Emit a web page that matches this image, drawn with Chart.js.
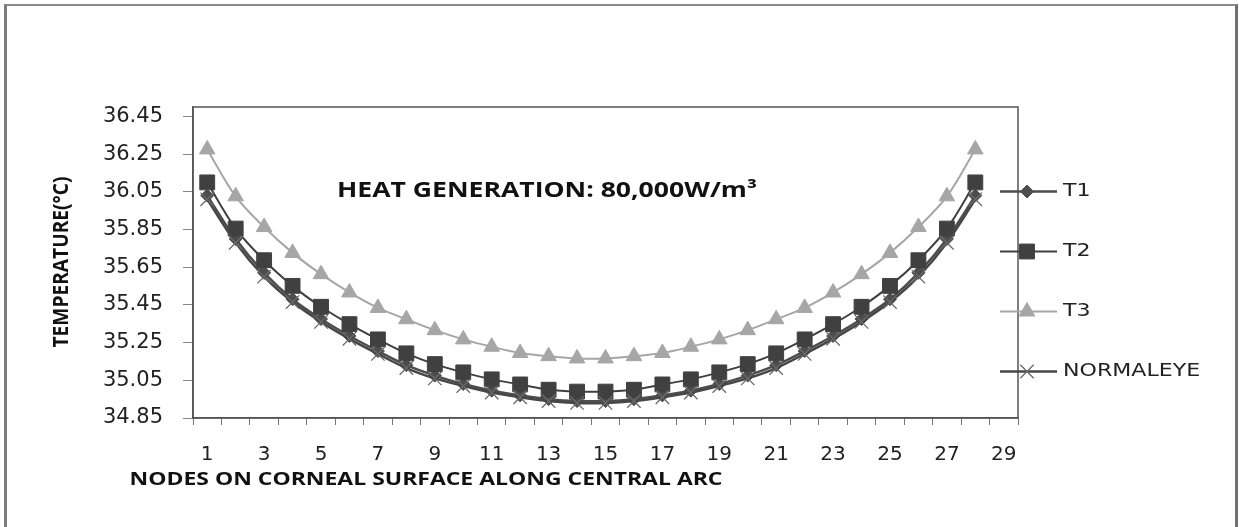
<!DOCTYPE html>
<html><head><meta charset="utf-8">
<script src="https://cdn.jsdelivr.net/npm/chart.js@4.4.0/dist/chart.umd.min.js"></script>
<style>
html,body{margin:0;padding:0;background:#fff;overflow:hidden}
#wrap{position:relative;width:1239px;height:527px}
#frame{position:absolute;left:4px;top:4px;width:1228px;height:600px;border-left:3px solid #7d7d7d;border-top:2px solid #8a8a8a;border-right:3px solid #6f6f6f;pointer-events:none}
</style></head>
<body><div id="wrap"><canvas id="c" width="1239" height="527"></canvas><div id="frame"></div></div>
<script>
const nodes = ['1','2','3','4','5','6','7','8','9','10','11','12','13','14','15','16','17','18','19','20','21','22','23','24','25','26','27','28','29'];
const t1 = [36.03,35.80,35.62,35.48,35.375,35.285,35.205,35.13,35.075,35.03,34.995,34.97,34.95,34.94,
            34.94,34.95,34.97,34.995,35.03,35.075,35.13,35.205,35.285,35.375,35.48,35.62,35.80,36.03];
const t2 = [36.10,35.855,35.687,35.551,35.44,35.348,35.267,35.193,35.136,35.092,35.055,35.028,35.00,34.99,
            34.99,35.00,35.028,35.055,35.092,35.136,35.193,35.267,35.348,35.44,35.551,35.687,35.855,36.10];
const t3 = [36.275,36.026,35.863,35.726,35.613,35.516,35.434,35.374,35.316,35.267,35.228,35.195,35.178,35.166,
            35.166,35.178,35.195,35.228,35.267,35.316,35.374,35.434,35.516,35.613,35.726,35.863,36.026,36.275];
const normalEye = [36.01,35.78,35.60,35.465,35.36,35.27,35.19,35.115,35.06,35.02,34.985,34.96,34.94,34.93,
            34.93,34.94,34.96,34.985,35.02,35.06,35.115,35.19,35.27,35.36,35.465,35.60,35.78,36.01];
const yTicks = [34.85,35.05,35.25,35.45,35.65,35.85,36.05,36.25,36.45];
const seriesNames = ['T1','T2','T3','NORMALEYE'];
const annotationText = 'HEAT GENERATION: 80,000W/m\u00B3';
const xTitle = 'NODES ON CORNEAL SURFACE ALONG CENTRAL ARC';
const yTitle = 'TEMPERATURE(\u00B0C)';

function fitText(ctx, text, x, y, opts) {
  ctx.save();
  ctx.font = opts.font;
  ctx.fillStyle = opts.color || '#1a1a1a';
  ctx.textBaseline = 'middle';
  ctx.textAlign = opts.align || 'center';
  const w = ctx.measureText(text).width;
  const sx = opts.width ? opts.width / w : (opts.sx || 1);
  const sy = opts.sy || 1;
  ctx.translate(x, y);
  if (opts.rotate) ctx.rotate(-Math.PI / 2);
  ctx.scale(sx, sy);
  ctx.fillText(text, 0, 0);
  ctx.restore();
}

const decor = {
  id: 'decor',
  afterDraw(chart) {
    const ctx = chart.ctx, a = chart.chartArea;
    ctx.save();
    ctx.strokeStyle = '#555';
    ctx.lineWidth = 1.5;
    ctx.strokeRect(a.left, a.top, a.right - a.left, a.bottom - a.top);
    ctx.restore();
    fitText(ctx, annotationText, 547, 191, {font: 'bold 21px "Open Sans"', width: 420, color: '#111'});
    fitText(ctx, xTitle, 426, 480, {font: 'bold 17px "Open Sans"', width: 593, color: '#111'});
    fitText(ctx, yTitle, 62, 262, {font: 'bold 17px "Open Sans"', width: 171, sy: 1.3, rotate: true, color: '#111'});
    // legend
    const ys = [191.5, 251.5, 311.5, 371.5];
    chart.data.datasets.forEach((ds, i) => {
      const y = ys[i];
      ctx.save();
      ctx.strokeStyle = ds.borderColor;
      ctx.lineWidth = ds.borderWidth;
      ctx.beginPath(); ctx.moveTo(1000, y); ctx.lineTo(1057, y); ctx.stroke();
      ctx.fillStyle = ds.backgroundColor;
      ctx.strokeStyle = ds.pointBorderColor || ds.borderColor;
      ctx.lineWidth = ds.pointBorderWidth;
      Chart.helpers.drawPoint(ctx, {pointStyle: ds.pointStyle, radius: ds.pointRadius, rotation: 0, borderWidth: ds.pointBorderWidth}, 1027, y);
      ctx.restore();
      fitText(ctx, ds.label, 1063, y, {font: '17px "DejaVu Sans"', sx: 1.3, align: 'left', color: '#222'});
    });
  }
};

new Chart(document.getElementById('c'), {
  type: 'line',
  data: {
    labels: nodes,
    datasets: [
      {label: seriesNames[0], data: t1, borderColor: '#4d4d4d', backgroundColor: '#4d4d4d', pointStyle: 'rectRot', pointRadius: 6.5, pointBorderWidth: 1, borderWidth: 2.5, tension: 0.35, order: 4},
      {label: seriesNames[1], data: t2, borderColor: '#404040', backgroundColor: '#404040', pointStyle: 'rect', pointRadius: 10.5, pointBorderWidth: 1, borderWidth: 2, tension: 0.35, order: 3},
      {label: seriesNames[2], data: t3, borderColor: '#a6a6a6', backgroundColor: '#a6a6a6', pointStyle: 'triangle', pointRadius: 9, pointBorderWidth: 1, borderWidth: 2, tension: 0.35, order: 2},
      {label: seriesNames[3], data: normalEye, borderColor: '#474747', backgroundColor: '#474747', pointBorderColor: '#6a6a6a', pointStyle: 'crossRot', pointRadius: 9.5, pointBorderWidth: 1.3, borderWidth: 2.5, tension: 0.35, order: 1}
    ]
  },
  options: {
    responsive: false,
    animation: false,
    devicePixelRatio: 1,
    layout: {padding: {left: 0, top: 107, right: 221, bottom: 0}},
    plugins: {legend: {display: false}, tooltip: {enabled: false}, title: {display: false}},
    scales: {
      x: {
        type: 'category',
        offset: true,
        grid: {offset: true, drawOnChartArea: false, drawTicks: true, tickLength: 7, color: '#777', lineWidth: 1},
        border: {display: true, color: '#555', width: 1.5},
        ticks: {autoSkip: false, maxRotation: 0, minRotation: 0, padding: 18, color: '#222',
                font: {family: 'DejaVu Sans', size: 20},
                callback: (v, i) => (i % 2 === 0 ? nodes[i] : '')},
        afterFit: s => { s.height = 109; }
      },
      y: {
        min: 34.85, max: 36.5,
        afterBuildTicks: s => { s.ticks = yTicks.map(v => ({value: v})); },
        grid: {drawOnChartArea: false, drawTicks: true, tickLength: 10, color: '#888', lineWidth: 1},
        border: {display: true, color: '#555', width: 1.5},
        ticks: {padding: 20, color: '#222', font: {family: 'DejaVu Sans', size: 21},
                callback: v => Number(v).toFixed(2)},
        afterFit: s => { s.width = 193; }
      }
    }
  },
  plugins: [decor]
});
</script>
</body></html>
